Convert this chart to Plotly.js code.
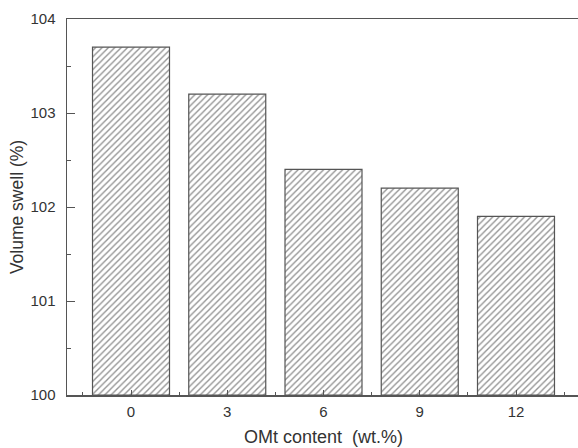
<!DOCTYPE html>
<html>
<head>
<meta charset="utf-8">
<script src="https://cdn.plot.ly/plotly-3.0.1.min.js"></script>
<style>html,body{margin:0;padding:0;overflow:hidden;background:#fff;}</style>
</head>
<body>
<div id="chart" style="width:582px;height:448px;"></div>
<script>
const categories = ["0", "3", "6", "9", "12"];
const positions = [0, 1, 2, 3, 4];
const volumeSwell = [103.7, 103.2, 102.4, 102.2, 101.9];
const yTicks = [100, 101, 102, 103, 104];

const trace = {
  type: 'bar',
  x: positions,
  y: volumeSwell.map(v => v - 100),
  base: 100,
  width: 0.8,
  marker: {
    color: '#ffffff',
    line: {color: '#555555', width: 1.2},
    pattern: {shape: '/', fgcolor: '#929292', bgcolor: '#ffffff', size: 4.5, solidity: 0.3}
  },
  hoverinfo: 'skip'
};

const layout = {
  width: 582, height: 448,
  margin: {l: 67, r: 2, t: 19, b: 53},
  paper_bgcolor: '#ffffff', plot_bgcolor: '#ffffff',
  font: {family: 'Liberation Sans, Arial, sans-serif', size: 15, color: '#333333'},
  showlegend: false,
  xaxis: {
    range: [-0.665, 4.665],
    tickmode: 'array', tickvals: positions, ticktext: categories,
    ticks: 'inside', ticklen: 5, tickwidth: 1, tickcolor: '#555555',
    showline: true, linecolor: '#555555', linewidth: 1.5, mirror: true,
    showgrid: false, zeroline: false,
    ticklabelstandoff: 2,
    minor: {ticks: 'inside', ticklen: 3, tickwidth: 1, tickcolor: '#555555', tick0: 0.5, dtick: 1, showgrid: false},
    title: {text: 'OMt content\u00a0 (wt.%)', font: {size: 18, color: '#333333'}, standoff: 12},
    tickfont: {size: 15, color: '#333333'}
  },
  yaxis: {
    range: [100, 104],
    tickmode: 'array', tickvals: yTicks, ticktext: yTicks.map(String),
    ticks: 'inside', ticklen: 8, tickwidth: 1, tickcolor: '#555555',
    showline: true, linecolor: '#555555', linewidth: 1.5, mirror: true,
    showgrid: false, zeroline: false,
    ticklabelstandoff: 7,
    minor: {ticks: 'inside', ticklen: 4, tickwidth: 1, tickcolor: '#555555', tick0: 100.5, dtick: 1, showgrid: false},
    title: {text: 'Volume swell (%)', font: {size: 17.5, color: '#333333'}, standoff: 2},
    tickfont: {size: 15, color: '#333333'}
  }
};

Plotly.newPlot('chart', [trace], layout, {displayModeBar: false, staticPlot: true});
</script>
</body>
</html>
